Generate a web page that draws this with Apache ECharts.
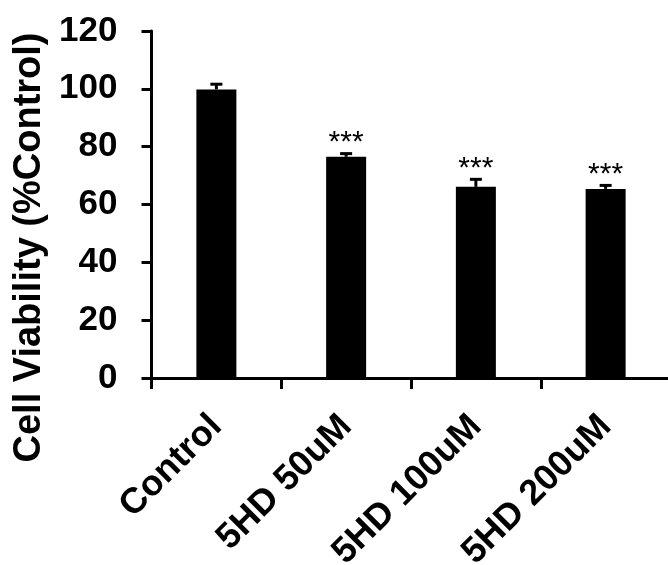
<!DOCTYPE html>
<html>
<head>
<meta charset="utf-8">
<script src="https://cdn.jsdelivr.net/npm/echarts@6/dist/echarts.min.js"></script>
<style>html,body{margin:0;padding:0;background:#fff}#c{width:668px;height:565px}</style>
</head>
<body>
<div id="c"></div>
<script>
const categories = ['Control', '5HD 50uM', '5HD 100uM', '5HD 200uM'];
const viability = [99.8, 76.5, 66.1, 65.4];
const errors = [1.8, 1.1, 2.6, 1.2];
const significance = ['', '***', '***', '***'];
const yTicks = [0, 20, 40, 60, 80, 100, 120];

const FONT = "'Liberation Sans', Arial, sans-serif";

const chart = echarts.init(document.getElementById('c'), null, {renderer: 'canvas'});
chart.setOption({
  animation: false,
  backgroundColor: '#fff',
  grid: {left: 151.5, top: 31, width: 519, bottom: 187, containLabel: false, outerBoundsMode: 'none'},
  xAxis: {
    type: 'category',
    data: categories,
    axisLine: {lineStyle: {color: '#000', width: 3}},
    axisTick: {show: true, length: 11, lineStyle: {color: '#000', width: 3}},
    axisLabel: {interval: 0, rotate: 45, margin: 43, color: '#000', fontWeight: 'bold', fontSize: 36, fontFamily: FONT}
  },
  yAxis: {
    type: 'value',
    min: yTicks[0], max: yTicks[yTicks.length - 1], interval: yTicks[1] - yTicks[0],
    name: 'Cell Viability (%Control)',
    nameLocation: 'middle', nameRotate: 90, nameGap: 99,
    nameTextStyle: {color: '#000', fontWeight: 'bold', fontSize: 38, fontFamily: FONT, padding: [0, 86, 0, 0]},
    axisLine: {show: true, lineStyle: {color: '#000', width: 3}},
    axisTick: {show: true, length: 10, lineStyle: {color: '#000', width: 3}},
    axisLabel: {margin: 34, color: '#000', fontWeight: 'bold', fontSize: 35, fontFamily: FONT},
    splitLine: {show: false}
  },
  series: [
    {
      type: 'bar',
      data: viability,
      barWidth: 40,
      itemStyle: {color: '#000'}
    },
    {
      type: 'custom',
      z: 5,
      data: viability.map((v, i) => [i, v, errors[i]]),
      renderItem: function (params, api) {
        const i = api.value(0);
        const v = api.value(1);
        const e = api.value(2);
        const base = api.coord([i, v]);
        const top = api.coord([i, v + e]);
        const children = [
          {type: 'line', shape: {x1: base[0], y1: base[1], x2: top[0], y2: top[1]}, style: {stroke: '#000', lineWidth: 3}},
          {type: 'line', shape: {x1: top[0] - 6, y1: top[1], x2: top[0] + 6, y2: top[1]}, style: {stroke: '#000', lineWidth: 3}}
        ];
        const s = significance[params.dataIndex];
        if (s) {
          children.push({type: 'text', style: {text: s, x: top[0], y: top[1] - 11, fill: '#000', font: '30px ' + FONT, align: 'center', verticalAlign: 'middle'}});
        }
        return {type: 'group', children: children};
      }
    }
  ]
});
</script>
</body>
</html>
